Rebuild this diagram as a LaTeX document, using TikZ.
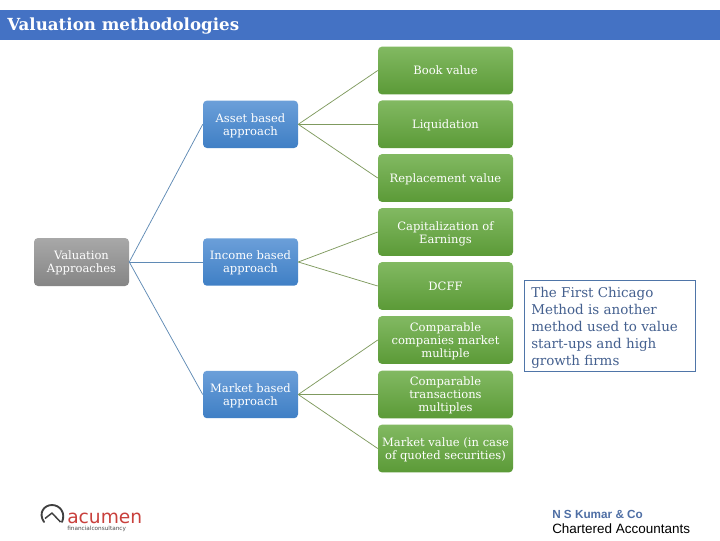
\documentclass[tikz,border=0pt]{standalone}
\usepackage{fontspec}
\setmainfont{DejaVu Serif}
\newfontfamily\logosans{DejaVu Sans}
\newfontfamily\footsans{Liberation Sans}
\definecolor{headblue}{HTML}{4472C4}
\definecolor{bluetop}{HTML}{6B9FD9}
\definecolor{bluebot}{HTML}{3F7FC5}
\definecolor{greentop}{HTML}{82B962}
\definecolor{greenbot}{HTML}{5B9A37}
\definecolor{greytop}{HTML}{A8A8A8}
\definecolor{greybot}{HTML}{858585}
\definecolor{linkblue}{HTML}{5F8AB5}
\definecolor{linkgreen}{HTML}{7F9A5E}
\definecolor{notetext}{HTML}{44608F}
\definecolor{noteline}{HTML}{4F75A8}
\definecolor{acumenred}{HTML}{C9403C}
\definecolor{nskblue}{HTML}{4F6FA5}
\tikzset{
  x=0.75pt, y=-0.75pt,
  boxbase/.style={rounded corners=3pt, inner sep=0pt},
  boxtext/.style={align=center, text=white, inner sep=0pt, font=\fontsize{8.65}{9.75}\selectfont},
  tl/.style 2 args={label={[boxtext, yshift=#1]center:{#2}}},
  rootbox/.style={boxbase, top color=greytop, bottom color=greybot, minimum width=71.25pt, minimum height=36pt},
  midbox/.style={boxbase, top color=bluetop, bottom color=bluebot, minimum width=71.25pt, minimum height=35.6pt},
  leafbox/.style={boxbase, top color=greentop, bottom color=greenbot, minimum width=101.25pt, minimum height=35.8pt},
  bluelink/.style={draw=linkblue, line width=0.55pt},
  greenlink/.style={draw=linkgreen, line width=0.55pt},
}
\begin{document}
\begin{tikzpicture}
\useasboundingbox (0,0) rectangle (720,540);
\fill[white] (0,0) rectangle (720,540);
\node[fill=headblue, minimum width=540pt, minimum height=22.5pt, inner sep=0pt, anchor=north west] (head) at (0,10) {};
\node[anchor=west, text=white, inner sep=0pt, font=\fontsize{12.5}{15}\selectfont\bfseries] (title) at (7,26.5) {Valuation methodologies};

\node[rootbox, tl={-0.75pt}{Valuation\\Approaches}] (root) at (81.5,262) {};
\node[midbox, tl={-1.5pt}{Asset based\\approach}] (asset) at (250.5,124.3) {};
\node[midbox, tl={-0.75pt}{Income based\\approach}] (income) at (250.5,262) {};
\node[midbox, tl={-0.75pt}{Market based\\approach}] (market) at (250.5,394.5) {};

\node[leafbox, tl={0pt}{Book value}] (book) at (445.5,70.5) {};
\node[leafbox, tl={-0.75pt}{Liquidation}] (liq) at (445.5,124.3) {};
\node[leafbox, tl={-0.75pt}{Replacement value}] (repl) at (445.5,178) {};
\node[leafbox, tl={-1.5pt}{Capitalization of\\Earnings}] (cap) at (445.5,232) {};
\node[leafbox, tl={0pt}{DCFF}] (dcff) at (445.5,286) {};
\node[leafbox, tl={-0.75pt}{Comparable\\companies market\\multiple}] (comp) at (445.5,340) {};
\node[leafbox, tl={-0.75pt}{Comparable\\transactions\\multiples}] (trans) at (445.5,394.5) {};
\node[leafbox, tl={-0.75pt}{Market value (in case\\of quoted securities)}] (mval) at (445.5,448.5) {};

\draw[bluelink] (root.east) -- (asset.west);
\draw[bluelink] (root.east) -- (income.west);
\draw[bluelink] (root.east) -- (market.west);
\draw[greenlink] (asset.east) -- (book.west);
\draw[greenlink] (asset.east) -- (liq.west);
\draw[greenlink] (asset.east) -- (repl.west);
\draw[greenlink] (income.east) -- (cap.west);
\draw[greenlink] (income.east) -- (dcff.west);
\draw[greenlink] (market.east) -- (comp.west);
\draw[greenlink] (market.east) -- (trans.west);
\draw[greenlink] (market.east) -- (mval.west);

\node[draw=noteline, line width=0.7pt, minimum width=128pt, minimum height=68pt, inner sep=0pt] (note) at (610,326) {};
\node[anchor=north west, inner sep=0pt, text=notetext, align=left, font=\fontsize{10.1}{12.75}\selectfont] (notetxt) at (531,286.5) {The First Chicago\\Method is another\\method used to value\\start-ups and high\\growth firms};

% acumen logo
\draw[line width=1.4pt, color=black!75, line cap=round] (44,522) .. controls (38,513) and (44,505) .. (52,505) .. controls (60,505) and (66,513) .. (62,522);
\draw[line width=1.1pt, color=black!75, line join=round] (45,518.5) -- (52,513) -- (60.5,522);
\node[anchor=west, inner sep=0pt, text=acumenred, font=\logosans\fontsize{14}{16}\selectfont] (acumen) at (67,518) {acumen};
\node[anchor=west, inner sep=0pt, text=black!70, font=\logosans\fontsize{4.3}{5}\selectfont] (fin) at (67,528.5) {financialconsultancy};

\node[anchor=west, inner sep=0pt, text=nskblue, font=\footsans\bfseries\fontsize{8.8}{10}\selectfont] (nsk) at (552,514.5) {N S Kumar \& Co};
\node[anchor=west, inner sep=0pt, text=black, font=\footsans\fontsize{10.1}{12}\selectfont] (ca) at (552,528.5) {Chartered Accountants};
\end{tikzpicture}
\end{document}
